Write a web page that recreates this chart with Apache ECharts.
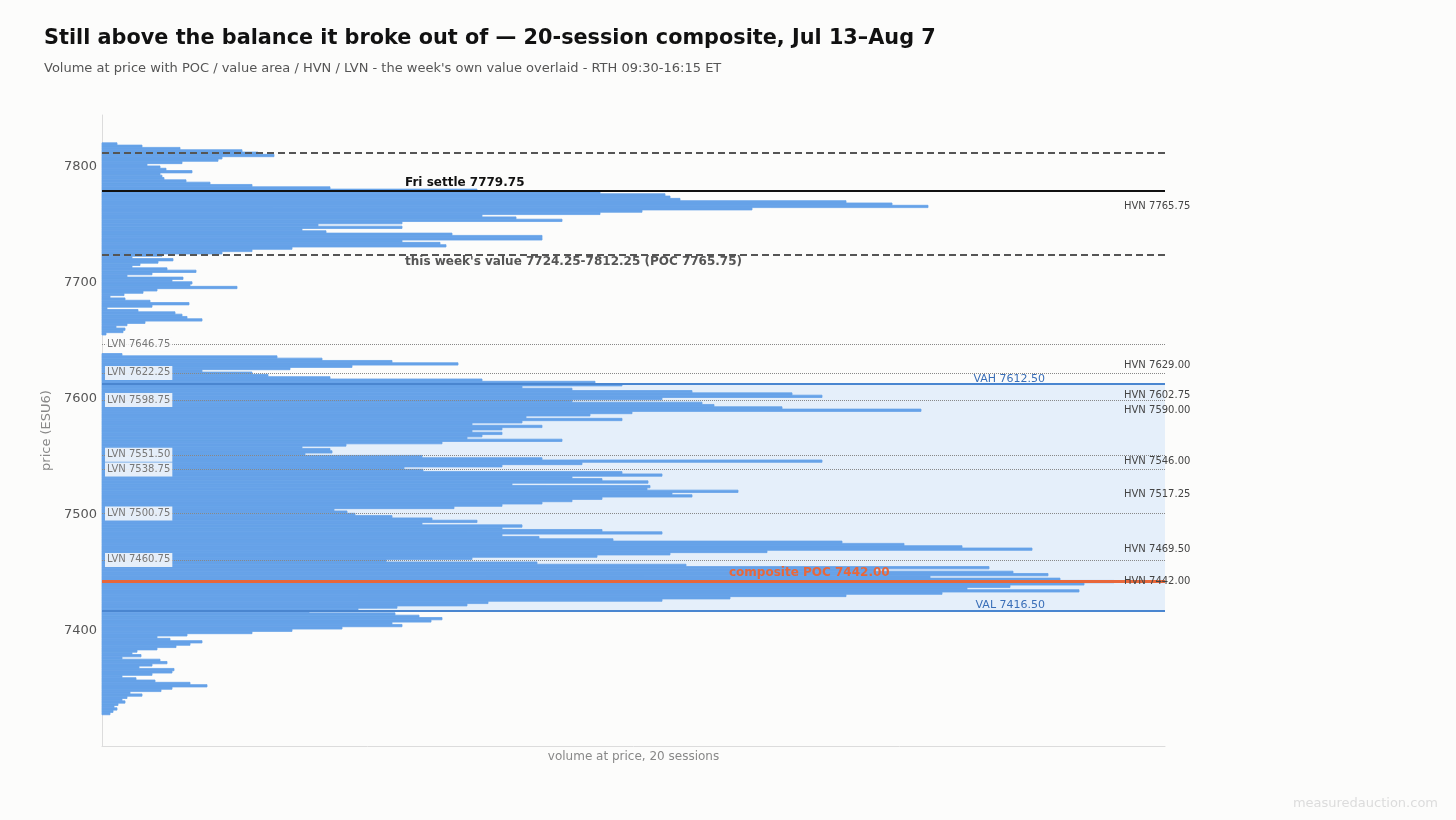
<!DOCTYPE html>
<html>
<head>
<meta charset="utf-8">
<title>20-session composite volume profile</title>
<script src="https://cdn.jsdelivr.net/npm/echarts@6/dist/echarts.min.js"></script>
<style>
  html, body { margin: 0; padding: 0; background: #fcfcfb; }
  #chart { width: 1456px; height: 820px; }
</style>
</head>
<body>
<div id="chart"></div>
<script>
// --- Profile data: volume per 2-point bucket, from the top bucket down ---
const TOP_LEVEL = 7820;
const BUCKET = 2;
const volumes = [
  15, 40, 78, 140, 156, 172, 120, 116, 80, 45,        // 7820 - 7802
  58, 64, 90, 58, 60, 62, 84, 108, 150, 228,          // 7800 - 7782
  375, 498, 563, 568, 578, 744, 790, 826, 650, 540,   // 7780 - 7762
  498, 380, 414, 460, 300, 216, 300, 200, 224, 350,   // 7760 - 7742
  440, 440, 300, 338, 344, 190, 150, 120, 60, 30,     // 7740 - 7722
  71, 56, 38, 30, 65, 94, 50, 25, 81, 70,             // 7720 - 7702
  90, 88, 135, 55, 41, 22, 8, 23, 48, 87,             // 7700 - 7682
  50, 5, 36, 73, 80, 85, 100, 43, 25, 14,             // 7680 - 7662
  23, 21, 4, 0, 0, 0, 0, 0, 0, 0,                     // 7660 - 7642
  0, 20, 175, 220, 290, 356, 250, 188, 100, 150,      // 7640 - 7622
  166, 228, 380, 493, 520, 420, 470, 590, 690, 720,   // 7620 - 7602
  560, 470, 600, 612, 680, 819, 530, 488, 424, 520,   // 7600 - 7582
  420, 370, 440, 400, 370, 400, 380, 365, 460, 340,   // 7580 - 7562
  244, 200, 228, 230, 203, 320, 440, 720, 480, 400,   // 7560 - 7542
  302, 321, 520, 560, 470, 500, 546, 410, 548, 545,   // 7540 - 7522
  636, 570, 590, 500, 470, 440, 400, 352, 232, 245,   // 7520 - 7502
  253, 290, 330, 375, 320, 420, 400, 500, 560, 400,   // 7500 - 7482
  437, 511, 740, 802, 860, 930, 665, 568, 495, 370,   // 7480 - 7462
  284, 435, 584, 887, 772, 911, 946, 828, 958, 1012,  // 7460 - 7442
  982, 908, 865, 977, 840, 744, 628, 560, 386, 365,   // 7440 - 7422
  295, 256, 207, 293, 317, 340, 329, 290, 300, 240,   // 7420 - 7402
  190, 150, 85, 55, 68, 100, 88, 74, 55, 35,          // 7400 - 7382
  30, 39, 20, 58, 65, 50, 37, 72, 70, 50,             // 7380 - 7362
  20, 34, 53, 88, 105, 70, 59, 28, 40, 25,            // 7360 - 7342
  20, 23, 16, 12, 15, 11, 8                           // 7340 - 7328
];
const levels = volumes.map((_, i) => TOP_LEVEL - i * BUCKET);

// --- Reference levels ---
const valueArea = [7416.5, 7612.5];
const compositePoc = 7442.0;
const friSettle = 7779.75;
const weekValue = [7724.25, 7812.25];
const weekPoc = 7765.75;
const hvnLevels = [7765.75, 7629.00, 7602.75, 7590.00, 7546.00, 7517.25, 7469.50, 7442.00];
const lvnLevels = [7646.75, 7622.25, 7598.75, 7551.50, 7538.75, 7500.75, 7460.75];

const FONT = 'DejaVu Sans';
const BAR_COLOR = '#66a2e8';
const chart = echarts.init(document.getElementById('chart'), null, { renderer: 'canvas' });

const profileData = levels.map((p, i) => [p, volumes[i]]);

function renderBucket(params, api) {
  const price = api.value(0);
  const vol = api.value(1);
  if (!vol) return null;
  const a = api.coord([0, price + BUCKET / 2]);
  const b = api.coord([vol, price - BUCKET / 2]);
  return {
    type: 'rect',
    shape: { x: a[0], y: a[1], width: b[0] - a[0], height: b[1] - a[1] },
    // thin stroke in the fill colour hides antialias seams between buckets
    style: { fill: BAR_COLOR, stroke: BAR_COLOR, lineWidth: 0.8 }
  };
}

const markLines = [];
// this week's value (dashed)
markLines.push({
  yAxis: weekValue[1],
  lineStyle: { color: '#555', width: 2, type: [7, 4] },
  label: { show: false }
});
markLines.push({
  yAxis: weekValue[0],
  lineStyle: { color: '#555', width: 2, type: [7, 4] },
  label: {
    show: true, position: 'insideStartBottom', distance: [303, 1],
    formatter: `this week's value ${weekValue[0].toFixed(2)}-${weekValue[1].toFixed(2)} (POC ${weekPoc.toFixed(2)})`,
    color: '#555', fontWeight: 'bold', fontSize: 12, fontFamily: FONT
  }
});
// Friday settle
markLines.push({
  yAxis: friSettle,
  lineStyle: { color: '#111', width: 2, type: 'solid' },
  label: {
    show: true, position: 'insideStartTop', distance: [303, 2],
    formatter: `Fri settle ${friSettle.toFixed(2)}`,
    color: '#111', fontWeight: 'bold', fontSize: 12, fontFamily: FONT
  }
});
// value area edges
[['VAH', valueArea[1]], ['VAL', valueArea[0]]].forEach(([name, v]) => {
  markLines.push({
    yAxis: v,
    lineStyle: { color: '#4a86d0', width: 2, type: 'solid' },
    label: {
      show: true, position: 'insideEndTop', distance: [120, 0],
      formatter: `${name} ${v.toFixed(2)}`,
      color: '#3a6fb8', fontSize: 11, fontFamily: FONT
    }
  });
});
// LVNs
lvnLevels.forEach(v => {
  markLines.push({
    yAxis: v,
    lineStyle: { color: '#888', width: 1, type: 'dotted' },
    label: {
      show: true, position: 'insideStart', distance: [3, 0],
      formatter: `LVN ${v.toFixed(2)}`,
      color: '#777', fontSize: 10, fontFamily: FONT,
      backgroundColor: 'rgba(252,252,251,0.85)', padding: [2, 2]
    }
  });
});
// composite POC
markLines.push({
  yAxis: compositePoc,
  lineStyle: { color: '#e8673a', width: 3, type: 'solid' },
  label: {
    show: true, position: 'insideStartTop', distance: [627, 3],
    formatter: `composite POC ${compositePoc.toFixed(2)}`,
    color: '#e8673a', fontWeight: 'bold', fontSize: 12, fontFamily: FONT
  }
});
// HVN labels (no line)
hvnLevels.forEach(v => {
  markLines.push({
    yAxis: v,
    lineStyle: { color: 'rgba(0,0,0,0)', width: 0 },
    label: {
      show: true, position: 'end', distance: [-41, 0],
      formatter: `HVN ${v.toFixed(2)}`,
      color: '#444', fontSize: 10, fontFamily: FONT
    }
  });
});

const option = {
  backgroundColor: '#fcfcfb',
  animation: false,
  textStyle: { fontFamily: FONT },
  title: {
    left: 39, top: 23, itemGap: 13,
    text: 'Still above the balance it broke out of \u2014 20-session composite, Jul 13\u2013Aug 7',
    subtext: "Volume at price with POC / value area / HVN / LVN - the week's own value overlaid - RTH 09:30-16:15 ET",
    textStyle: { fontSize: 20.8, fontWeight: 'bold', color: '#111', fontFamily: FONT },
    subtextStyle: { fontSize: 13, color: '#555', fontFamily: FONT }
  },
  grid: { left: 102, right: 291, top: 115, bottom: 74, containLabel: false },
  xAxis: {
    type: 'value', min: 0, max: 1063,
    axisLine: { show: true, lineStyle: { color: '#dcdcdc' } },
    axisTick: { show: false }, axisLabel: { show: false }, splitLine: { show: false },
    name: 'volume at price, 20 sessions', nameLocation: 'middle', nameGap: 5,
    nameTextStyle: { color: '#888', fontSize: 12, fontFamily: FONT }
  },
  yAxis: {
    type: 'value', min: 7300, max: 7845, interval: 100,
    axisLine: { show: true, lineStyle: { color: '#dcdcdc' } },
    axisTick: { show: false }, splitLine: { show: false },
    axisLabel: {
      color: '#555', fontSize: 13, margin: 5, showMinLabel: false, showMaxLabel: false,
      fontFamily: FONT, formatter: v => String(v)
    },
    name: 'price (ESU6)', nameLocation: 'middle', nameGap: 34,
    nameTextStyle: { color: '#888', fontSize: 13, fontFamily: FONT }
  },
  graphic: [{
    type: 'text', right: 18, bottom: 10,
    style: { text: 'measuredauction.com', fill: '#dcdcdc', font: '13px "DejaVu Sans"' }
  }],
  series: [
    {
      name: 'value area', type: 'line', data: [], z: 1, silent: true,
      markArea: {
        silent: true,
        itemStyle: { color: '#e5effa' },
        data: [[{ yAxis: valueArea[0] }, { yAxis: valueArea[1] }]]
      }
    },
    {
      name: 'volume', type: 'custom', z: 2, silent: true,
      encode: { x: 1, y: 0 },
      renderItem: renderBucket,
      data: profileData
    },
    {
      name: 'levels', type: 'line', data: [], z: 3, silent: true,
      markLine: { silent: true, symbol: ['none', 'none'], animation: false, data: markLines }
    }
  ]
};

chart.setOption(option);
</script>
</body>
</html>
